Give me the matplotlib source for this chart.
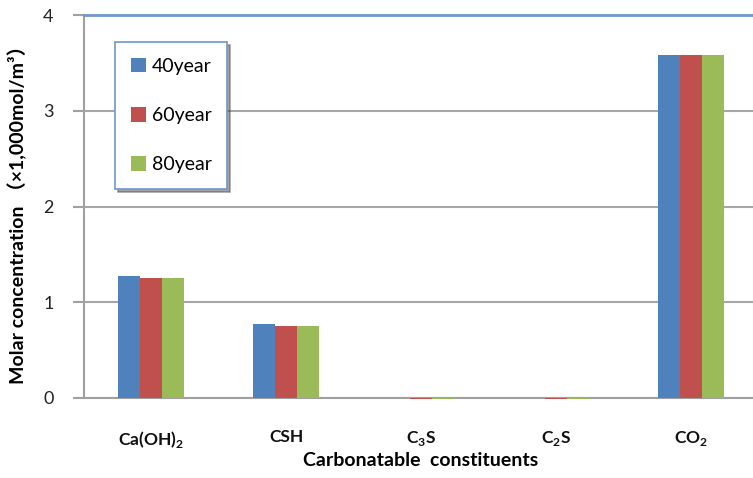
import matplotlib
matplotlib.use("Agg")
import matplotlib.pyplot as plt
import numpy as np

categories = ["Ca(OH)$_\\mathbf{2}$", "CSH", "C$_\\mathbf{3}$S", "C$_\\mathbf{2}$S", "CO$_\\mathbf{2}$"]
series_names = ["40year", "60year", "80year"]
y40 = [1.27, 0.77, 0.0, 0.0, 3.58]
y60 = [1.25, 0.755, -0.015, -0.015, 3.58]
y80 = [1.25, 0.755, -0.015, -0.015, 3.58]
colors = ["#4F81BD", "#C0504D", "#9BBB59"]
yticks = [0, 1, 2, 3, 4]

plt.rcParams['font.family'] = ['Lato', 'Noto Sans CJK JP', 'DejaVu Sans']
plt.rcParams['mathtext.fontset'] = 'custom'
plt.rcParams['mathtext.rm'] = 'Lato'
plt.rcParams['mathtext.bf'] = 'Lato:bold'

fig = plt.figure(figsize=(7.53, 4.78), dpi=100)
W, H = 753, 478
ax = fig.add_axes([84 / W, 1 - 398 / H, (758 - 84) / W, (398 - 15) / H])

x = np.arange(len(categories))
bw = 0.163
for i, (vals, name) in enumerate(zip([y40, y60, y80], series_names)):
    ax.bar(x + (i - 1) * bw, vals, width=bw, color=colors[i], label=name, zorder=3,
           edgecolor='none', clip_on=False)

ax.set_xlim(-0.5, 4.5)
ax.set_ylim(0, 4)
ax.set_yticks(yticks)
ax.set_yticklabels([str(t) for t in yticks], fontsize=13, color="#222222")
ax.set_xticks(x)
ax.set_xticklabels(categories, fontsize=12.5, fontweight='bold', color="#111111")
ax.tick_params(axis='x', length=0, pad=22)
ax.tick_params(axis='y', length=8, width=1.5, color="#A0A0A0", pad=14)
ax.yaxis.grid(True, color="#A6A6A6", linewidth=1.5, zorder=0)
ax.set_axisbelow(True)
ax.spines['right'].set_visible(False)
ax.spines['top'].set_color("#7096D0")
ax.spines['top'].set_linewidth(2)
ax.spines['left'].set_color("#A0A0A0")
ax.spines['left'].set_linewidth(1.5)
ax.spines['bottom'].set_color("#A0A0A0")
ax.spines['bottom'].set_linewidth(1.5)
ax.spines['bottom'].set_zorder(2.5)

ax.set_xlabel("Carbonatable  constituents", fontsize=14, fontweight='bold', labelpad=2)
fig.text(18 / W, 1 - 210 / H, "Molar concentration （×1,000mol/m³）", rotation=90,
         fontsize=14, fontweight='bold', ha='center', va='center',
         family=['Lato', 'Noto Sans CJK JP', 'DejaVu Sans'])

leg = ax.legend(loc='upper left', bbox_to_anchor=((115 - 84) / (758 - 84), 1 - (42 - 15) / 383),
                fontsize=14, frameon=True, fancybox=False, shadow=True,
                handlelength=0.8, handleheight=0.8, handletextpad=0.3,
                labelspacing=1.65, borderpad=0.8, borderaxespad=0)
leg.get_frame().set_edgecolor("#7096D0")
leg.get_frame().set_linewidth(1.2)

fig.savefig("out.png", dpi=100)
